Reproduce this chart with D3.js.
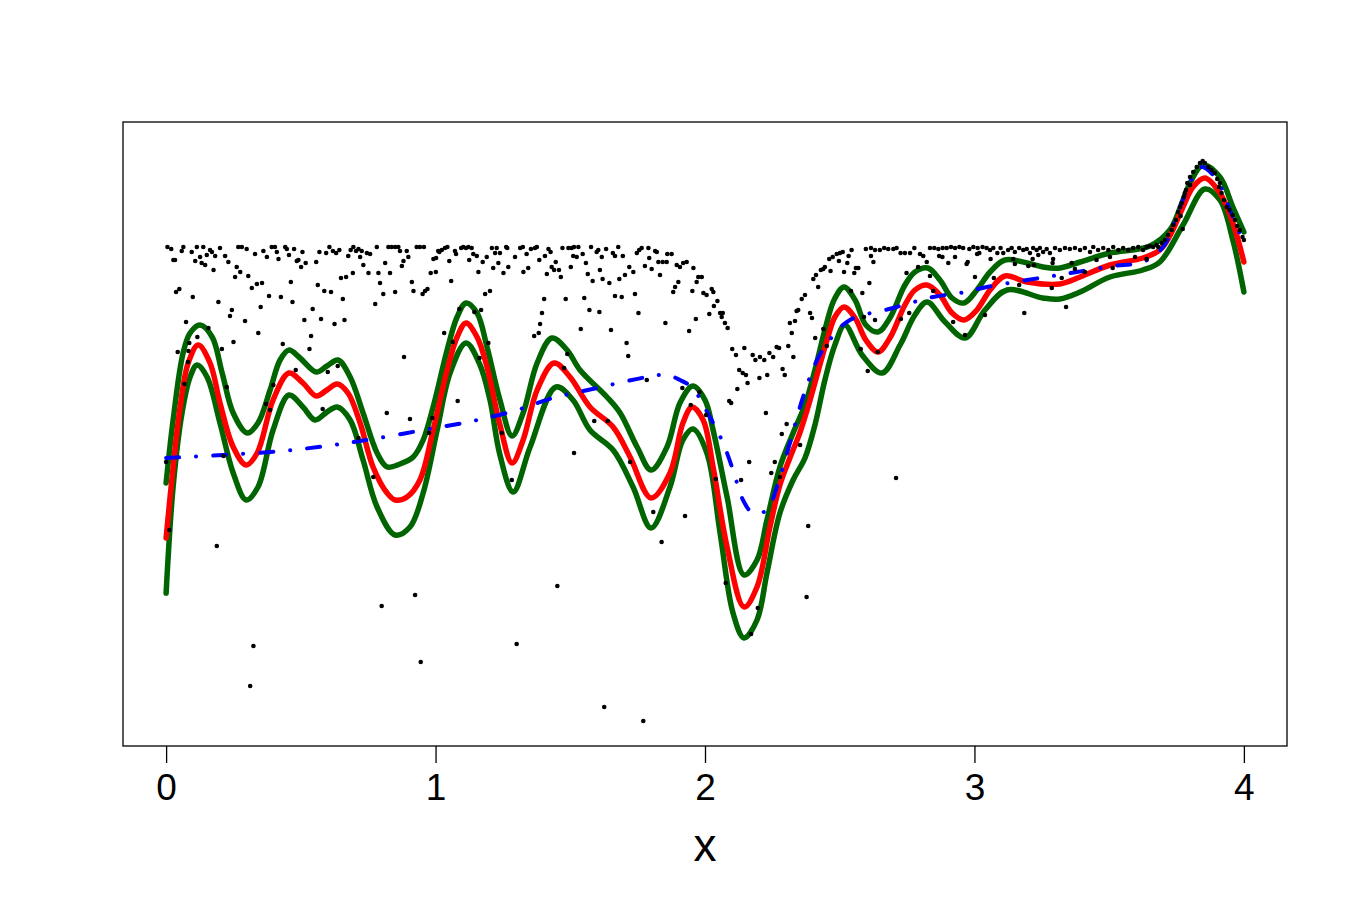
<!DOCTYPE html>
<html>
<head>
<meta charset="utf-8">
<script src="https://cdn.jsdelivr.net/npm/d3@7"></script>
<style>
  body { margin: 0; background: #fff; }
  svg text { font-family: "Liberation Sans", Arial, sans-serif; }
</style>
</head>
<body>
<div class="plot_container"></div>
<script>
// 資料
const xTicks = [0, 1, 2, 3, 4]

// 觀測點 [x, y]
const obsPoints = [
  [0.000,2.84],[0.005,4.99],[0.012,2.16],[0.019,4.97],[0.027,4.86],[0.033,4.86],[0.037,4.54],[0.043,3.94],[0.049,4.57],[0.058,4.95],
  [0.064,4.99],[0.068,3.62],[0.074,4.24],[0.081,3.84],[0.083,3.95],[0.086,4.03],[0.095,4.94],[0.099,4.49],[0.108,4.85],[0.114,4.99],
  [0.116,4.09],[0.126,4.89],[0.132,4.83],[0.138,4.99],[0.145,4.81],[0.151,4.91],[0.157,4.18],[0.163,4.96],[0.170,4.94],[0.176,4.76],
  [0.182,4.90],[0.188,2.00],[0.194,4.44],[0.200,4.98],[0.207,3.97],[0.213,2.90],[0.219,4.90],[0.225,3.59],[0.231,4.84],[0.237,4.30],
  [0.244,4.36],[0.250,4.04],[0.256,4.69],[0.262,4.79],[0.268,4.99],[0.275,4.74],[0.281,4.99],[0.293,4.25],[0.299,4.97],[0.305,4.70],
  [0.312,0.60],[0.318,4.58],[0.324,1.00],[0.330,4.92],[0.337,4.62],[0.342,4.13],[0.351,4.39],[0.356,4.63],[0.361,4.95],[0.371,3.42],
  [0.374,4.89],[0.382,4.50],[0.386,3.36],[0.392,4.99],[0.398,3.61],[0.404,4.99],[0.411,4.94],[0.417,4.87],[0.426,4.49],[0.433,4.02],
  [0.442,4.99],[0.448,4.97],[0.456,4.91],[0.463,4.64],[0.469,4.44],[0.475,4.97],[0.481,3.76],[0.485,4.85],[0.491,4.86],[0.501,4.79],
  [0.506,4.94],[0.513,4.26],[0.518,4.83],[0.532,3.97],[0.538,4.10],[0.544,4.37],[0.557,4.84],[0.563,4.61],[0.569,4.94],[0.575,4.27],
  [0.581,3.37],[0.587,4.55],[0.594,4.93],[0.600,3.74],[0.606,4.99],[0.612,4.54],[0.619,4.95],[0.625,4.22],[0.631,4.93],[0.637,3.80],
  [0.643,4.96],[0.649,4.68],[0.656,4.47],[0.662,4.26],[0.668,4.69],[0.676,4.90],[0.685,4.96],[0.693,4.73],[0.695,4.99],[0.705,4.95],
  [0.714,4.97],[0.714,3.08],[0.720,4.89],[0.726,4.95],[0.732,4.81],[0.745,4.93],[0.751,4.73],[0.757,4.92],[0.769,2.69],[0.776,4.42],
  [0.782,4.99],[0.788,4.73],[0.794,4.63],[0.800,1.40],[0.806,4.52],[0.813,4.83],[0.819,3.33],[0.825,4.99],[0.831,4.73],[0.837,4.99],
  [0.850,4.54],[0.850,4.99],[0.862,4.99],[0.868,4.95],[0.875,4.80],[0.881,4.85],[0.883,3.89],[0.893,4.95],[0.899,4.89],[0.905,3.27],
  [0.912,4.64],[0.918,4.55],[0.924,1.51],[0.930,4.99],[0.942,4.99],[0.945,0.84],[0.952,4.52],[0.957,4.99],[0.961,4.55],[0.970,4.57],
  [0.976,3.13],[0.982,4.73],[0.988,3.28],[0.992,4.87],[1.001,4.74],[1.002,4.88],[1.010,4.95],
  [1.014,4.94],[1.023,4.96],[1.032,4.13],[1.035,4.98],[1.044,4.99],[1.051,4.85],[1.058,4.65],[1.064,4.04],[1.072,4.95],[1.076,4.92],
  [1.082,3.45],[1.088,4.37],[1.095,4.98],[1.103,4.99],[1.113,4.98],[1.122,4.99],[1.125,4.86],[1.134,4.98],[1.140,4.92],[1.144,4.34],
  [1.153,4.90],[1.159,4.74],[1.163,3.88],[1.169,4.36],[1.175,4.84],[1.184,4.52],[1.190,4.89],[1.196,4.03],[1.202,4.55],[1.209,4.98],
  [1.214,4.78],[1.221,4.93],[1.227,4.98],[1.233,4.83],[1.239,4.93],[1.246,3.13],[1.252,4.73],[1.262,4.99],[1.266,4.98],[1.270,4.79],
  [1.283,2.66],[1.295,4.89],[1.301,1.02],[1.314,4.98],[1.324,4.99],[1.326,4.74],[1.338,4.92],[1.344,4.78],[1.354,4.97],[1.366,4.10],
  [1.369,4.98],[1.376,4.99],[1.383,4.13],[1.385,4.86],[1.388,4.22],[1.395,4.33],[1.403,4.47],[1.406,4.90],[1.413,4.72],[1.419,4.97],
  [1.427,4.94],[1.431,4.79],[1.440,4.76],[1.446,4.84],[1.452,1.60],[1.458,4.76],[1.465,4.69],[1.471,4.98],[1.477,3.78],[1.483,4.47],
  [1.489,3.92],[1.493,4.98],[1.502,4.79],[1.505,4.98],[1.511,4.90],[1.514,4.99],[1.514,2.93],[1.524,4.89],[1.530,4.99],[1.539,4.17],
  [1.546,4.92],[1.552,4.48],[1.558,4.83],[1.565,4.72],[1.571,4.36],[1.577,4.99],[1.583,4.65],[1.589,3.25],[1.598,4.94],[1.604,4.96],
  [1.608,4.34],[1.610,4.76],[1.617,4.89],[1.620,4.67],[1.626,0.39],[1.633,4.97],[1.639,3.25],[1.645,4.63],[1.651,4.16],[1.658,4.93],
  [1.666,4.90],[1.666,4.50],[1.678,4.99],[1.682,4.67],[1.691,4.49],[1.695,4.90],[1.703,4.71],[1.709,4.03],[1.715,3.90],[1.719,4.79],
  [1.722,2.84],[1.734,4.74],[1.740,4.52],[1.747,4.93],[1.753,4.33],[1.756,4.96],[1.765,4.98],[1.771,0.25],[1.777,4.80],[1.784,3.66],
  [1.790,4.98],[1.793,4.88],[1.802,4.77],[1.808,2.34],[1.815,4.95],[1.821,4.94],[1.827,4.84],[1.833,4.71],[1.839,2.04],[1.843,4.84],
  [1.853,4.23],[1.858,4.84],[1.860,4.92],[1.876,4.92],[1.882,4.54],[1.889,4.59],[1.895,4.81],[1.901,4.64],[1.907,4.79],[1.916,3.58],
  [1.919,4.83],[1.926,2.30],[1.932,4.84],[1.941,4.15],[1.947,3.41],[1.953,4.55],[1.957,4.78],[1.966,4.27],[1.969,4.64],[1.975,4.69],
  [1.979,3.54],[1.988,4.69],[1.994,4.53],[2.004,3.31],[2.006,4.51],[2.016,4.32],[2.025,4.57],[2.031,4.54],[2.033,4.40],[2.040,2.67],
  [2.046,4.45],[2.056,4.33],[2.062,4.29],[2.066,4.33],[2.074,4.23],[2.077,1.63],[2.084,4.18],[2.090,3.45],[2.097,3.43],[2.101,3.97],
  [2.115,3.91],[2.120,3.57],[2.127,3.76],[2.134,2.66],[2.140,3.73],[2.146,3.98],[2.152,3.71],[2.158,3.63],[2.164,2.84],[2.171,1.12],
  [2.177,3.91],[2.187,3.86],[2.196,1.38],[2.202,3.68],[2.204,3.89],[2.220,3.86],[2.226,3.33],[2.231,3.71],[2.239,3.93],[2.246,2.73],
  [2.253,3.89],[2.259,2.84],[2.266,3.99],[2.275,3.98],[2.278,2.69],[2.285,3.12],[2.288,3.77],[2.296,3.71],[2.303,3.22],[2.309,4.00],
  [2.315,4.23],[2.322,4.13],[2.328,3.89],[2.334,4.25],[2.340,4.35],[2.346,4.36],[2.353,3.01],[2.359,4.47],[2.371,4.51],[2.377,1.49],
  [2.383,2.20],[2.390,4.33],[2.397,4.28],[2.402,4.67],[2.409,4.08],[2.412,4.71],[2.420,4.59],[2.430,4.76],[2.439,4.17],[2.439,4.77],
  [2.445,4.79],[2.452,4.00],[2.461,4.87],[2.466,4.75],[2.474,4.89],[2.489,4.92],[2.497,4.85],[2.501,4.93],[2.511,4.94],[2.516,4.74],
  [2.528,4.83],[2.533,4.90],[2.542,4.55],[2.544,4.96],[2.554,4.73],[2.560,4.78],[2.569,4.78],[2.578,3.97],[2.584,4.53],[2.590,4.29],
  [2.597,4.97],[2.604,3.75],[2.610,4.63],[2.616,4.98],[2.616,4.90],[2.625,4.84],[2.631,4.96],[2.631,4.26],[2.641,3.94],[2.649,4.96],
  [2.665,4.98],[2.680,4.97],[2.699,4.97],[2.709,2.68],[2.711,4.98],[2.726,4.93],[2.727,4.27],[2.742,4.93],[2.748,4.73],[2.758,4.33],
  [2.761,4.93],[2.777,4.98],[2.791,4.79],[2.798,4.92],[2.810,4.90],[2.823,4.84],[2.835,4.98],[2.835,4.70],[2.847,4.55],[2.851,4.98],
  [2.866,4.97],[2.869,4.90],[2.881,4.89],[2.882,4.98],[2.897,4.98],[2.903,4.83],[2.913,4.99],[2.921,4.24],[2.928,4.98],[2.928,4.89],
  [2.944,4.99],[2.958,4.98],[2.965,4.11],[2.971,4.82],[2.975,4.84],[2.981,4.97],[2.996,4.99],[3.002,4.69],[3.010,4.92],[3.012,4.98],
  [3.018,4.93],[3.030,4.99],[3.039,4.31],[3.045,4.98],[3.058,4.96],[3.060,4.87],[3.070,4.98],[3.072,4.68],[3.085,4.93],[3.097,4.98],
  [3.107,4.93],[3.125,4.96],[3.138,4.98],[3.144,4.87],[3.150,4.94],[3.150,4.82],[3.166,4.98],[3.166,4.61],[3.181,4.96],[3.185,4.33],
  [3.194,4.97],[3.200,4.80],[3.206,4.93],[3.216,4.87],[3.218,4.98],[3.221,4.81],[3.231,4.96],[3.237,4.91],[3.243,4.98],[3.255,4.94],
  [3.268,4.97],[3.280,4.93],[3.287,4.58],[3.290,4.83],[3.292,4.87],[3.299,4.98],[3.317,4.96],[3.324,4.68],[3.336,4.98],[3.340,4.39],
  [3.354,4.97],[3.361,4.83],[3.373,4.98],[3.373,4.77],[3.392,4.96],[3.410,4.98],[3.410,4.74],[3.429,4.94],[3.441,4.99],[3.453,4.86],
  [3.459,4.96],[3.478,4.98],[3.497,4.96],[3.503,4.89],[3.513,4.78],[3.515,4.99],[3.534,4.96],[3.552,4.98],[3.571,4.96],[3.589,4.98],
  [3.596,4.89],[3.608,4.99],[3.626,4.96],[3.639,4.99],[3.639,4.87],[3.651,5.00],[3.663,4.99],[3.676,5.01],[3.682,4.99],[3.695,5.03],
  [3.707,5.06],[3.719,5.11],[3.732,5.16],[3.738,5.21],[3.748,5.26],[3.756,5.34],[3.763,5.39],[3.765,5.30],[3.769,5.43],[3.773,5.17],
  [3.777,5.49],[3.781,5.53],[3.785,5.56],[3.790,5.63],[3.800,5.69],[3.800,5.61],[3.812,5.74],[3.825,5.79],[3.837,5.83],[3.847,5.85],
  [3.855,5.83],[3.868,5.79],[3.880,5.76],[3.892,5.73],[3.901,5.67],[3.908,5.59],[3.911,5.63],[3.917,5.53],[3.926,5.46],[3.936,5.39],
  [3.946,5.36],[3.958,5.31],[3.967,5.26],[3.975,5.20],[3.985,5.16],[3.995,5.09],[4.000,5.06]
]

// 平滑估計 (紅線)
const fitLine = [
  [0.000,2.08],[0.026,2.79],[0.052,3.39],[0.082,3.83],[0.119,4.01],[0.163,3.83],[0.200,3.43],[0.249,2.99],[0.297,2.81],[0.338,2.93],
  [0.397,3.46],[0.456,3.73],[0.508,3.63],[0.557,3.50],[0.597,3.56],[0.635,3.62],[0.675,3.53],[0.720,3.23],[0.768,2.79],[0.820,2.53],
  [0.850,2.46],[0.894,2.49],[0.942,2.66],[0.991,3.16],[1.043,3.76],[1.080,4.09],[1.113,4.23],[1.154,4.09],[1.191,3.79],[1.239,3.21],
  [1.284,2.83],[1.325,3.06],[1.377,3.56],[1.440,3.83],[1.499,3.69],[1.573,3.39],[1.659,3.19],[1.722,2.89],[1.800,2.48],[1.870,2.73],
  [1.918,3.23],[1.952,3.39],[1.993,3.26],[2.030,2.79],[2.082,1.99],[2.145,1.39],[2.193,1.59],[2.241,2.19],[2.278,2.61],[2.315,2.88],
  [2.353,3.14],[2.390,3.46],[2.419,3.74],[2.453,4.06],[2.482,4.29],[2.516,4.39],[2.557,4.28],[2.597,4.06],[2.642,3.94],[2.686,4.08],
  [2.742,4.41],[2.779,4.56],[2.824,4.61],[2.872,4.51],[2.917,4.33],[2.961,4.26],[3.009,4.36],[3.058,4.56],[3.113,4.70],[3.195,4.64],
  [3.317,4.62],[3.392,4.69],[3.503,4.81],[3.625,4.88],[3.688,4.96],[3.725,5.10],[3.774,5.39],[3.811,5.59],[3.855,5.68],[3.911,5.53],
  [3.959,5.23],[4.000,4.84]
]

// 信賴帶 上/下 (綠線)
const upperBand = [
  [0.000,2.63],[0.026,3.26],[0.063,3.93],[0.089,4.13],[0.126,4.21],[0.171,4.09],[0.208,3.73],[0.249,3.33],[0.301,3.13],[0.341,3.23],
  [0.386,3.56],[0.423,3.86],[0.456,3.96],[0.497,3.88],[0.557,3.74],[0.597,3.80],[0.638,3.86],[0.683,3.69],[0.731,3.33],[0.783,2.93],
  [0.820,2.79],[0.868,2.82],[0.917,2.89],[0.954,3.06],[0.991,3.39],[1.043,3.96],[1.080,4.29],[1.113,4.43],[1.154,4.33],[1.191,3.99],
  [1.239,3.46],[1.284,3.10],[1.325,3.33],[1.377,3.83],[1.432,4.08],[1.488,3.96],[1.536,3.76],[1.636,3.49],[1.685,3.33],[1.748,2.99],
  [1.800,2.76],[1.859,2.99],[1.907,3.43],[1.955,3.60],[2.000,3.46],[2.030,3.16],[2.082,2.49],[2.145,1.71],[2.193,1.86],[2.230,2.26],
  [2.278,2.79],[2.327,3.13],[2.371,3.41],[2.408,3.76],[2.445,4.16],[2.479,4.46],[2.516,4.59],[2.557,4.46],[2.597,4.21],[2.642,4.14],
  [2.686,4.28],[2.742,4.61],[2.779,4.74],[2.827,4.78],[2.872,4.66],[2.917,4.48],[2.961,4.43],[3.009,4.56],[3.058,4.74],[3.113,4.86],
  [3.195,4.83],[3.254,4.79],[3.317,4.78],[3.392,4.84],[3.503,4.93],[3.651,5.00],[3.725,5.16],[3.763,5.38],[3.800,5.63],[3.848,5.81],
  [3.911,5.69],[3.959,5.39],[4.000,5.14]
]
const lowerBand = [
  [0.000,1.53],[0.026,2.59],[0.059,3.33],[0.089,3.69],[0.115,3.81],[0.152,3.69],[0.200,3.23],[0.249,2.73],[0.297,2.46],[0.341,2.59],
  [0.397,3.16],[0.456,3.51],[0.508,3.39],[0.553,3.26],[0.597,3.34],[0.635,3.39],[0.683,3.26],[0.731,2.86],[0.783,2.39],[0.850,2.11],
  [0.905,2.19],[0.954,2.53],[1.006,3.16],[1.054,3.73],[1.113,4.03],[1.165,3.81],[1.202,3.46],[1.239,2.91],[1.288,2.54],[1.351,2.99],
  [1.447,3.59],[1.510,3.46],[1.573,3.16],[1.659,2.96],[1.733,2.59],[1.800,2.18],[1.870,2.59],[1.918,3.06],[1.955,3.17],[2.007,2.93],
  [2.056,2.13],[2.104,1.33],[2.145,1.08],[2.193,1.26],[2.230,1.73],[2.278,2.33],[2.327,2.66],[2.371,2.88],[2.408,3.21],[2.445,3.66],
  [2.482,4.01],[2.519,4.21],[2.583,3.91],[2.657,3.73],[2.724,4.01],[2.779,4.31],[2.824,4.44],[2.891,4.24],[2.965,4.08],[3.039,4.36],
  [3.121,4.56],[3.254,4.48],[3.317,4.47],[3.392,4.54],[3.503,4.69],[3.625,4.76],[3.688,4.84],[3.774,5.21],[3.855,5.57],[3.911,5.46],
  [3.959,5.06],[4.000,4.54]
]

// 參數模型 (藍色點虛線)
const paramFit = [
  [0.000,2.88],[0.212,2.91],[0.434,2.95],[0.620,3.01],[0.768,3.07],[0.954,3.16],[1.139,3.25],[1.302,3.36],[1.436,3.48],[1.599,3.58],
  [1.785,3.69],[1.859,3.71],[1.907,3.66],[1.955,3.58],[1.993,3.41],[2.030,3.23],[2.067,3.03],[2.104,2.76],[2.141,2.46],[2.178,2.33],
  [2.230,2.36],[2.267,2.59],[2.315,3.03],[2.364,3.49],[2.416,3.86],[2.471,4.09],[2.538,4.26],[2.698,4.38],[2.846,4.49],[2.946,4.53],
  [3.046,4.59],[3.195,4.66],[3.291,4.70],[3.380,4.74],[3.514,4.80],[3.625,4.84],[3.700,4.99],[3.763,5.39],[3.811,5.69],[3.844,5.79],
  [3.900,5.66],[3.948,5.36],[4.000,5.03]
]

const svg_width = 1350
const svg_height = 900
const chart_margin = { top: 122, left: 123, right: 63, bottom: 154 }
const chart_width = svg_width - (chart_margin.left + chart_margin.right)
const chart_height = svg_height - (chart_margin.top + chart_margin.bottom)

const svg = d3.select('.plot_container').append('svg')
    .attr('width', svg_width).attr('height', svg_height)
    .style('display', 'block')

const this_svg = svg.append('g')
    .attr('transform', `translate(${chart_margin.left},${chart_margin.top})`)

// scale (R 的 4% 延伸)
const xScale = d3.scaleLinear().domain([-0.16, 4.16]).range([0, chart_width])
const yScale = d3.scaleLinear().domain([0, 6.24]).range([chart_height, 0])

const lineGen = d3.line()
    .x(d => xScale(d[0]))
    .y(d => yScale(d[1]))
    .curve(d3.curveCatmullRom.alpha(0.5))

// 線
this_svg.selectAll('.band').data([upperBand, lowerBand])
    .enter().append('path')
    .attr('class', 'band')
    .attr('d', lineGen)
    .attr('fill', 'none')
    .attr('stroke', '#006400')
    .attr('stroke-width', 5.5)
    .attr('stroke-linecap', 'round')
    .attr('stroke-linejoin', 'round')

this_svg.append('path').datum(fitLine)
    .attr('d', lineGen)
    .attr('fill', 'none')
    .attr('stroke', '#ff0000')
    .attr('stroke-width', 5.5)
    .attr('stroke-linecap', 'round')
    .attr('stroke-linejoin', 'round')

this_svg.append('path').datum(paramFit)
    .attr('d', lineGen)
    .attr('fill', 'none')
    .attr('stroke', '#0000ff')
    .attr('stroke-width', 4)
    .attr('stroke-linecap', 'round')
    .attr('stroke-dasharray', '13 17 0.1 17')

// 點
this_svg.selectAll('.obs').data(obsPoints)
    .enter().append('circle')
    .attr('class', 'obs')
    .attr('cx', d => xScale(d[0]))
    .attr('cy', d => yScale(d[1]))
    .attr('r', 2.3)
    .style('fill', '#000')

// 外框
this_svg.append('rect')
    .attr('x', 0).attr('y', 0)
    .attr('width', chart_width).attr('height', chart_height)
    .attr('fill', 'none')
    .attr('stroke', '#000')
    .attr('stroke-width', 1.3)

// x 軸
const xAxis = d3.axisBottom(xScale).tickValues(xTicks).tickFormat(d3.format('d'))
    .tickSizeInner(17).tickSizeOuter(0).tickPadding(11)

this_svg.append('g')
    .attr('transform', `translate(0,${chart_height})`)
    .call(xAxis)
    .call(g => g.select('.domain').remove())
    .call(g => g.selectAll('line').attr('stroke', '#000').attr('stroke-width', 1.3))
    .call(g => g.selectAll('text').attr('fill', '#000').style('font-size', '37px')
        .style('font-family', '"Liberation Sans", Arial, sans-serif'))

svg.append('text')
    .attr('x', chart_margin.left + xScale(2))
    .attr('y', 861)
    .attr('text-anchor', 'middle')
    .style('font-size', '46px')
    .text('x')
</script>
</body>
</html>
